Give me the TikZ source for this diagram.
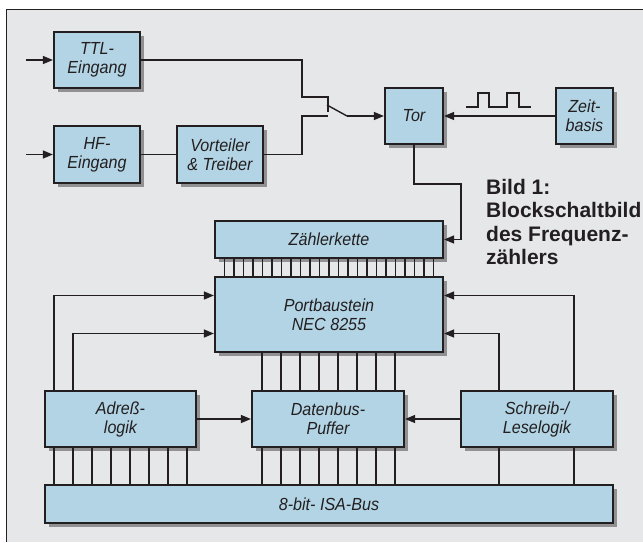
\documentclass[tikz,border=0pt]{standalone}
\usepackage{fontspec}
\setmainfont{Liberation Sans}
\newfontfamily\lblfont[FakeStretch=0.92]{Liberation Sans}
\usetikzlibrary{arrows.meta,shadows}
\definecolor{ink}{RGB}{35,31,32}
\definecolor{boxblue}{RGB}{178,212,228}
\definecolor{bg}{RGB}{230,231,233}
\definecolor{shade}{RGB}{145,145,148}

\begin{document}
\begin{tikzpicture}[x=1pt,y=-1pt,
    blk/.style={draw=ink, line width=2.2pt, fill=boxblue, inner sep=0pt, align=center,
        text=ink, font=\lblfont\itshape\fontsize{17.5}{19}\selectfont,
        drop shadow={shadow xshift=4pt, shadow yshift=-4pt, fill=shade, opacity=1}},
    wire/.style={draw=ink, line width=1.4pt},
    arr/.style={wire, -{Triangle[length=10pt,width=8pt]}},
    bus/.style={draw=ink, line width=1.2pt}]
    \useasboundingbox (0,0) rectangle (643,542);
    \fill[bg] (6,9) rectangle (643,542);
    \draw[ink, line width=1pt] (6,542) -- (6,9) -- (643,9);

    \node[blk, minimum width=86pt, minimum height=56pt] (ttl) at (97,60) {TTL-\\Eingang};
    \node[blk, minimum width=86pt, minimum height=57pt] (hf) at (97,154.5) {HF-\\Eingang};
    \node[blk, minimum width=86pt, minimum height=57pt] (vort) at (220,154.5) {Vorteiler\\\& Treiber};
    \node[blk, minimum width=58pt, minimum height=56pt] (tor) at (414,116) {Tor};
    \node[blk, minimum width=57pt, minimum height=56pt] (zeit) at (584.5,116) {Zeit-\\basis};
    \node[blk, minimum width=228pt, minimum height=37pt] (zaehl) at (329,239.5) {Zählerkette};
    \node[blk, minimum width=228pt, minimum height=75pt] (port) at (329,314.5) {Portbaustein\\NEC 8255};
    \node[blk, minimum width=151pt, minimum height=56pt] (adr) at (120.5,419) {Adreß-\\logik};
    \node[blk, minimum width=152pt, minimum height=56pt] (daten) at (328,419) {Datenbus-\\Puffer};
    \node[blk, minimum width=152pt, minimum height=56pt] (schreib) at (537,419) {Schreib-/\\Leselogik};
    \node[blk, minimum width=568pt, minimum height=38pt] (isa) at (329,504) {8-bit- ISA-Bus};

    \node[anchor=north west, inner sep=0pt, align=left, text=ink,
        font=\bfseries\fontsize{21}{23.3}\selectfont] (caption) at (486,179)
        {Bild 1:\\Blockschaltbild\\des Frequenz-\\zählers};

    \coordinate (in1) at (26,60);
    \coordinate (in2) at (26,154.5);
    \coordinate (swa) at (328,97);
    \coordinate (swb) at (328,116);
    \coordinate (pivot) at (347,116);
    \draw[arr] (in1) -- (ttl.west);
    \draw[arr] (in2) -- (hf.west);
    \draw[wire] (hf) -- (vort);
    \draw[wire] (ttl.east) -- ++(161,0) |- (swa) -- ++(0,15);
    \draw[wire] (vort.east) -- ++(38,0) |- (swb);
    \draw[wire] (pivot) -- ++(-20,-11);
    \draw[arr] (pivot) -- (tor.west);
    \draw[arr] (zeit.west) -- (tor.east);
    \draw[wire] (466,107) -- (478,107) -- (478,93) -- (489,93) -- (489,107)
        -- (507,107) -- (507,93) -- (519,93) -- (519,107) -- (531,107);
    \draw[arr] (tor.south) -- ++(0,39) -- ++(47,0) |- (zaehl.east);

    \foreach \i in {1,...,23}
        \draw[bus] (215+9.5*\i,0 |- zaehl.south) -- (215+9.5*\i,0 |- port.north);
    \foreach \x in {262,281,...,395} {
        \draw[bus] (\x,0 |- port.south) -- (\x,0 |- daten.north);
        \draw[bus] (\x,0 |- daten.south) -- (\x,0 |- isa.north);
    }
    \foreach \x in {54,73,...,187}
        \draw[bus] (\x,0 |- adr.south) -- (\x,0 |- isa.north);
    \foreach \x in {499,574}
        \draw[bus] (\x,0 |- schreib.south) -- (\x,0 |- isa.north);

    \draw[arr] (54,0 |- adr.north) |- ([yshift=19pt]port.west);
    \draw[arr] (73,0 |- adr.north) |- ([yshift=-19pt]port.west);
    \draw[arr] (574,0 |- schreib.north) |- ([yshift=19pt]port.east);
    \draw[arr] (499,0 |- schreib.north) |- ([yshift=-19pt]port.east);
    \draw[arr] (adr) -- (daten);
    \draw[arr] (schreib) -- (daten);
\end{tikzpicture}
\end{document}
